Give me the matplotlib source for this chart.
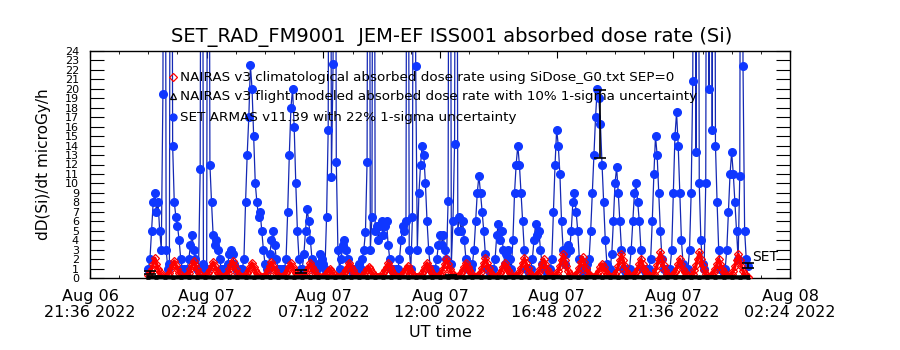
import numpy as np
import matplotlib
matplotlib.use("Agg")
import matplotlib.pyplot as plt

# ---------------- data (hours since 2022-08-07 00:00 UT) ----------------
set_step_h = 4.0 / 60.0
set_dose = [
    1, 2, 5, 8, 9, 7, 8, 5, 3, 19.5,
    90, 3, 1, 1.5, 90, 14, 8, 6.5, 5.5, 4,
    2, 1, 1, 0.5, 1, 2, 3.5, 4.5, 3, 2,
    1, 1, 11.5, 90, 1.5, 1, 1, 90, 12, 8,
    4.5, 3.5, 4, 3, 2, 1, 1, 0.5, 1, 1.5,
    2.5, 3, 2.5, 1.5, 1, 1, 0.5, 1, 1, 2,
    8, 13, 17, 22.5, 20, 15, 10, 8, 6.5, 7,
    5, 3, 1.5, 1, 1, 2.5, 4, 5, 3.5, 2,
    1, 1, 0.5, 1, 1, 2, 7, 13, 18, 20,
    16, 10, 5, 2, 1, 1, 2.5, 5, 7.3, 6,
    4, 2, 1, 1, 1, 1.5, 2.5, 2, 1.5, 1,
    6.5, 15.7, 90, 10.7, 22.6, 90, 12.3, 3, 1, 2,
    3.5, 4, 3, 2, 1, 1, 0.5, 1, 1, 1,
    1.5, 1, 2, 3, 4.9, 12.3, 90, 3, 6.5, 90,
    5, 5.5, 4, 5.5, 6, 4.5, 5.5, 6, 3.5, 2,
    1, 1, 0.5, 1, 1, 2, 4, 5.5, 5, 6,
    90, 3, 1, 6.5, 90, 22.4, 3, 9, 12, 14,
    13, 10, 6, 3, 1, 1, 0.5, 1, 2, 3.5,
    4.5, 3.5, 4.5, 3, 2, 8.1, 90, 1.5, 6, 14.2,
    90, 5, 6.5, 5, 6, 4, 2, 1, 1, 1,
    1.5, 3, 6, 9, 10.8, 9, 7, 5, 2.5, 1,
    1, 0.5, 1, 1, 2, 4.5, 5.7, 4, 5, 3,
    1.5, 2.5, 3, 2, 1, 4, 9, 12, 14, 12,
    9, 6, 3, 1, 1, 0.5, 1, 2, 4, 5.7,
    4.5, 5, 3, 1.5, 1, 1, 0.5, 1, 1, 2,
    7, 12, 15.7, 14, 11, 6, 3, 1.5, 2.5, 3.5,
    3, 5, 8, 9, 7, 5, 2, 1, 1, 0.5,
    1, 1.5, 2, 5, 9, 13, 17, 20, 19, 16.3,
    12, 8, 4, 1.5, 1, 1, 2.5, 6, 10, 11.7,
    9, 6, 3, 1, 1, 0.5, 1, 1, 3, 6,
    9, 10, 8, 6, 3, 1, 1, 0.5, 1, 1,
    2, 6, 11, 15, 13, 9, 5, 2, 1, 1,
    0.5, 1, 1, 3, 9, 15, 17.5, 14, 9, 4,
    1.5, 1, 1, 1, 3, 9, 20.8, 90, 13.3, 90,
    10, 4, 1.5, 1, 10, 90, 20, 90, 15.7, 90,
    14, 8, 3, 1, 1, 0.5, 1, 3, 7, 11,
    13.3, 11, 8, 5, 2, 10.8, 90, 22.4, 5, 2,
    1.3,
]

nairas_step_h = 4.0 / 60.0
nairas_clim = [
    0.3, 0.6, 1.0, 1.5, 2.1, 1.5, 1.0, 0.6, 0.3, 0.15,
    0.1, 0.15, 0.27, 0.54, 0.9, 1.35, 1.8, 1.35, 0.9, 0.54, 0.27, 0.15,
    0.1, 0.15, 0.27, 0.54, 0.9, 1.35, 1.8, 1.35, 0.9, 0.54, 0.27, 0.15,
    0.1, 0.14, 0.26, 0.51, 0.85, 1.28, 1.7, 1.28, 0.85, 0.51, 0.26, 0.14,
    0.1, 0.15, 0.27, 0.54, 0.9, 1.35, 1.8, 1.35, 0.9, 0.54, 0.27, 0.15,
    0.1, 0.13, 0.24, 0.48, 0.8, 1.2, 1.6, 1.2, 0.8, 0.48, 0.24, 0.13,
    0.1, 0.14, 0.26, 0.51, 0.85, 1.28, 1.7, 1.28, 0.85, 0.51, 0.26, 0.14,
    0.1, 0.13, 0.24, 0.48, 0.8, 1.2, 1.6, 1.2, 0.8, 0.48, 0.24, 0.13,
    0.1, 0.13, 0.24, 0.48, 0.8, 1.2, 1.6, 1.2, 0.8, 0.48, 0.24, 0.13,
    0.1, 0.1, 0.15, 0.3, 0.5, 0.75, 1.0, 0.75, 0.5, 0.3, 0.15, 0.1,
    0.1, 0.13, 0.24, 0.48, 0.8, 1.2, 1.6, 1.2, 0.8, 0.48, 0.24, 0.13,
    0.1, 0.1, 0.18, 0.36, 0.6, 0.9, 1.2, 0.9, 0.6, 0.36, 0.18, 0.1,
    0.1, 0.13, 0.24, 0.48, 0.8, 1.2, 1.6, 1.2, 0.8, 0.48, 0.24, 0.13,
    0.1, 0.1, 0.2, 0.39, 0.65, 0.98, 1.3, 0.98, 0.65, 0.39, 0.2, 0.1,
    0.1, 0.13, 0.24, 0.48, 0.8, 1.2, 1.6, 1.2, 0.8, 0.48, 0.24, 0.13,
    0.1, 0.16, 0.3, 0.6, 1.0, 1.5, 2.0, 1.5, 1.0, 0.6, 0.3, 0.16,
    0.1, 0.13, 0.24, 0.48, 0.8, 1.2, 1.6, 1.2, 0.8, 0.48, 0.24, 0.13,
    0.11, 0.17, 0.32, 0.63, 1.05, 1.58, 2.1, 1.58, 1.05, 0.63, 0.32, 0.17,
    0.1, 0.13, 0.24, 0.48, 0.8, 1.2, 1.6, 1.2, 0.8, 0.48, 0.24, 0.13,
    0.11, 0.17, 0.32, 0.63, 1.05, 1.58, 2.1, 1.58, 1.05, 0.63, 0.32, 0.17,
    0.1, 0.16, 0.3, 0.6, 1.0, 1.5, 2.0, 1.5, 1.0, 0.6, 0.3, 0.16,
    0.13, 0.2, 0.38, 0.75, 1.25, 1.88, 2.5, 1.88, 1.25, 0.75, 0.38, 0.2,
    0.11, 0.18, 0.33, 0.66, 1.1, 1.65, 2.2, 1.65, 1.1, 0.66, 0.33, 0.18,
    0.1, 0.12, 0.23, 0.45, 0.75, 1.13, 1.5, 1.13, 0.75, 0.45, 0.23, 0.12,
    0.13, 0.2, 0.38, 0.75, 1.25, 1.88, 2.5, 1.88, 1.25, 0.75, 0.38, 0.2,
    0.1, 0.16, 0.3, 0.6, 1.0, 1.5, 2.0, 1.5, 1.0, 0.6, 0.3, 0.16,
    0.14, 0.22, 0.4, 0.81, 1.35, 2.03, 2.7, 2.03, 1.35, 0.81, 0.4, 0.22,
    0.1, 0.16, 0.3, 0.6, 1.0, 1.5, 2.0, 1.5, 1.0, 0.6, 0.3, 0.16,
    0.14, 0.22, 0.4, 0.81, 1.35, 2.03, 2.7, 2.03, 1.35, 0.81, 0.4, 0.22,
    0.1, 0.16, 0.3, 0.6, 1.0, 1.5, 2.0, 1.5, 1.0, 0.6, 0.3, 0.16,
    0.13, 0.2, 0.38, 0.75, 1.25, 1.88, 2.5, 1.88, 1.25, 0.75, 0.38, 0.2,
    0.1,
]

flight_step_h = 20.0 / 60.0
nairas_flight = [
    0.08, 0.09, 0.08, 0.07, 0.08, 0.09, 0.08, 0.08, 0.07, 0.08,
    0.09, 0.08, 0.08, 0.07, 0.08, 0.09, 0.08, 0.08, 0.07, 0.08,
    0.09, 0.08, 0.08, 0.07, 0.08, 0.09, 0.08, 0.08, 0.07, 0.08,
    0.09, 0.08, 0.08, 0.07, 0.08, 0.09, 0.08, 0.08, 0.07, 0.08,
    0.09, 0.08, 0.08, 0.07, 0.08, 0.09, 0.08, 0.08, 0.07, 0.08,
    0.09, 0.08, 0.08, 0.07, 0.08, 0.09, 0.08, 0.08, 0.07, 0.08,
    0.09, 0.08, 0.08, 0.07, 0.08, 0.09, 0.08, 0.08, 0.07, 0.08,
    0.09, 0.08, 0.08, 0.07, 0.08,
]

# SET points carrying the drawn 22% 1-sigma error bars
err_times = [0.07, 6.27, 12.47, 18.6, 24.67]
err_values = [0.6, 0.7, 0.3, 16.3, 1.3]
err_frac = 0.22

x_tick_pos = [-2.4, 2.4, 7.2, 12.0, 16.8, 21.6, 26.4]
x_tick_labels = ["Aug 06\n21:36 2022", "Aug 07\n02:24 2022", "Aug 07\n07:12 2022",
                 "Aug 07\n12:00 2022", "Aug 07\n16:48 2022", "Aug 07\n21:36 2022",
                 "Aug 08\n02:24 2022"]
y_ticks = list(range(0, 25))

title = "SET_RAD_FM9001  JEM-EF ISS001 absorbed dose rate (Si)"
legend_texts = ["NAIRAS v3 climatological absorbed dose rate using SiDose_G0.txt SEP=0",
                "NAIRAS v3 flight modeled absorbed dose rate with 10% 1-sigma uncertainty",
                "SET ARMAS v11.39 with 22% 1-sigma uncertainty"]

# ---------------- plotting ----------------
plt.rcParams['font.family'] = ['DejaVu Sans']
fig = plt.figure(figsize=(9, 3.5), dpi=100)
ax = fig.add_axes([90 / 900, 1 - 278 / 350, 700 / 900, 227 / 350])

blue_line = '#1428b4'
blue_mark = '#0f37ff'
red = '#ff0000'

set_t = np.arange(len(set_dose)) * set_step_h
nai_t = np.arange(len(nairas_clim)) * nairas_step_h
fl_t = np.arange(len(nairas_flight)) * flight_step_h

ax.plot(set_t, set_dose, '-', color=blue_line, lw=0.9, zorder=2)
ax.plot(set_t, set_dose, 'o', ms=5.5, color=blue_mark, mec=blue_mark, zorder=3)
ax.plot(nai_t, nairas_clim, '-', color=red, lw=2.4, zorder=4)
ax.plot(nai_t, nairas_clim, 'D', ms=4.5, mfc='none', mec=red, mew=0.9, zorder=4)
ax.plot(fl_t, nairas_flight, '-', color='black', lw=3, zorder=5, clip_on=False)
ax.plot(fl_t, nairas_flight, '^', ms=2.5, mfc='none', mec='black', mew=0.8, zorder=5, clip_on=False)

ev = np.array(err_values)
ax.errorbar(err_times, err_values, yerr=ev * err_frac, fmt='none', ecolor='black',
            elinewidth=1.2, capsize=4, capthick=1.2, zorder=6)

ax.text(24.83, 2.2, "SET", fontsize=10, ha='left', va='center', zorder=7)

ax.set_xlim(-2.4, 26.4)
ax.set_ylim(0, 24)
ax.set_xticks(x_tick_pos)
ax.set_xticklabels(x_tick_labels, fontsize=11.5, linespacing=1.05)
ax.set_xticks(np.arange(-2.4, 26.41, 1.2), minor=True)
ax.set_yticks(y_ticks)
ax.set_yticklabels([str(v) for v in y_ticks], fontsize=8)

ax.tick_params(which='both', direction='in', top=True, right=True, color='black')
ax.tick_params(axis='x', which='major', length=5, pad=8)
ax.tick_params(axis='x', which='minor', length=2.5)
ax.tick_params(axis='y', which='major', length=10, pad=8)
for s in ax.spines.values():
    s.set_linewidth(1.0)

ax.set_xlabel("UT time", fontsize=11.5, labelpad=4)
ax.set_ylabel("dD(Si)/dt microGy/h", fontsize=11, labelpad=10)
fig.text(452 / 900, 1 - 37 / 350, title, fontsize=14, ha='center', va='center')

# in-plot legend
leg_y = [21.2, 19.2, 17.0]
leg_x_sym = 1.0
leg_x_txt = 1.3
ax.plot([leg_x_sym], [leg_y[0]], 'D', ms=4, mfc='none', mec=red, mew=0.9, zorder=8)
ax.plot([leg_x_sym], [leg_y[1]], '^', ms=5, mfc='none', mec='black', mew=0.9, zorder=8)
ax.plot([leg_x_sym], [leg_y[2]], 'o', ms=5, color=blue_mark, zorder=8)
for yy, txt in zip(leg_y, legend_texts):
    ax.text(leg_x_txt, yy, txt, fontsize=9.7, ha='left', va='center', zorder=8)

fig.savefig("out.png", dpi=100)
